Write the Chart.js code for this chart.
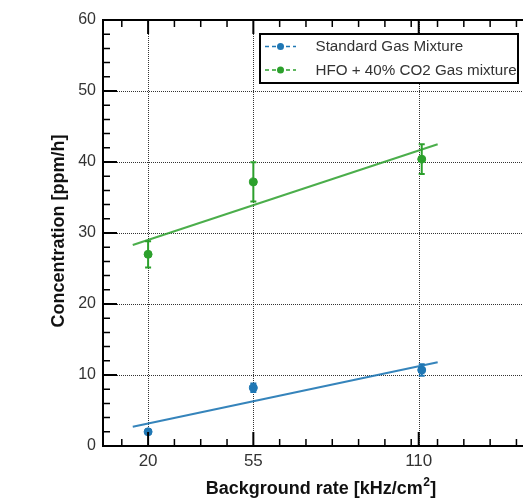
<!DOCTYPE html>
<html><head><meta charset="utf-8">
<script src="https://cdn.jsdelivr.net/npm/chart.js@4/dist/chart.umd.min.js"></script>
<style>html,body{margin:0;padding:0;background:#fff;overflow:hidden;width:523px;height:502px}canvas{display:block}</style>
</head><body>
<canvas id="c" width="545" height="502"></canvas>
<script>
const seriesNames = ['Standard Gas Mixture', 'HFO + 40% CO2 Gas mixture'];
const xValues = [20, 55, 111];
const standardY = [2.0, 8.2, 10.7];
const standardErr = [0.3, 0.6, 0.8];
const hfoY = [27.0, 37.2, 40.4];
const hfoErr = [1.85, 2.75, 2.1];
const fitX = [14.9, 116.3];
const standardFitY = [2.7, 11.8];
const hfoFitY = [28.3, 42.5];
const xTicks = [20, 55, 110];
const xMinorTicks = [11.25, 28.75, 37.5, 46.25, 63.75, 72.5, 81.25, 90, 98.75, 107.5, 116.25, 125, 133.75, 142.5];
const yTicks = [0, 10, 20, 30, 40, 50, 60];
const yMinorTicks = [2,4,6,8,12,14,16,18,22,24,26,28,32,34,36,38,42,44,46,48,52,54,56,58];
const xTitleParts = ['Background rate [kHz/cm', '2', ']'];
const yTitle = 'Concentration [ppm/h]';

const BLUE = '#1f77b4', GREEN = '#2ca02c';
const FONT = '"Liberation Sans", Arial, Helvetica, sans-serif';
const colors = [BLUE, GREEN];
const series = [[standardY, standardErr], [hfoY, hfoErr]];

const decor = {
  id: 'decor',
  beforeDatasetsDraw(chart) {
    const {ctx, chartArea: a, scales: {x, y}} = chart;
    ctx.save();
    ctx.strokeStyle = '#333'; ctx.lineWidth = 1; ctx.setLineDash([1, 1]);
    ctx.beginPath();
    xTicks.forEach(v => { const p = Math.round(x.getPixelForValue(v)) + 0.5; ctx.moveTo(p, a.top); ctx.lineTo(p, a.bottom); });
    yTicks.forEach(v => { if (v <= y.min || v >= y.max) return; const p = Math.round(y.getPixelForValue(v)) + 0.5; ctx.moveTo(a.left, p); ctx.lineTo(a.right, p); });
    ctx.stroke();
    ctx.setLineDash([]);
    series.forEach(([vals, errs], s) => {
      ctx.strokeStyle = colors[s]; ctx.lineWidth = 2;
      vals.forEach((v, i) => {
        const px = x.getPixelForValue(xValues[i]);
        const t = y.getPixelForValue(v + errs[i]);
        const b = y.getPixelForValue(v - errs[i]);
        ctx.beginPath();
        ctx.moveTo(px, t); ctx.lineTo(px, b);
        ctx.moveTo(px - 3, t); ctx.lineTo(px + 3, t);
        ctx.moveTo(px - 3, b); ctx.lineTo(px + 3, b);
        ctx.stroke();
      });
    });
    ctx.restore();
  },
  afterDatasetsDraw(chart) {
    const {ctx, chartArea: a, scales: {x, y}} = chart;
    ctx.save();
    ctx.strokeStyle = '#000'; ctx.lineWidth = 1.5;
    ctx.beginPath();
    const tick = (v, len, axis) => {
      if (axis === 'x') {
        const p = x.getPixelForValue(v);
        ctx.moveTo(p, a.bottom); ctx.lineTo(p, a.bottom - len);
        ctx.moveTo(p, a.top); ctx.lineTo(p, a.top + len);
      } else {
        const p = y.getPixelForValue(v);
        ctx.moveTo(a.left, p); ctx.lineTo(a.left + len, p);
        ctx.moveTo(a.right, p); ctx.lineTo(a.right - len, p);
      }
    };
    xMinorTicks.forEach(v => tick(v, 7, 'x'));
    yMinorTicks.forEach(v => tick(v, 7, 'y'));
    ctx.stroke();
    ctx.lineWidth = 2;
    ctx.beginPath();
    xTicks.forEach(v => tick(v, 14, 'x'));
    yTicks.forEach(v => tick(v, 14, 'y'));
    ctx.stroke();
    ctx.lineWidth = 2; ctx.strokeStyle = '#000';
    ctx.strokeRect(a.left, a.top, a.right - a.left, a.bottom - a.top);
    const L = 260, T = 34, R = 518, B = 83;
    ctx.fillStyle = '#fff';
    ctx.fillRect(L, T, R - L, B - T);
    ctx.lineWidth = 2; ctx.strokeStyle = '#000';
    ctx.strokeRect(L, T, R - L, B - T);
    const rows = [46.5, 70];
    seriesNames.forEach((name, i) => {
      const yy = rows[i];
      ctx.strokeStyle = colors[i]; ctx.lineWidth = 1.5; ctx.setLineDash([4, 3]);
      ctx.beginPath(); ctx.moveTo(265, yy); ctx.lineTo(296, yy); ctx.stroke();
      ctx.setLineDash([]);
      ctx.fillStyle = colors[i];
      ctx.beginPath(); ctx.arc(280.5, yy, 3.5, 0, Math.PI * 2); ctx.fill();
      ctx.fillStyle = '#333';
      ctx.font = '15.2px ' + FONT;
      ctx.textAlign = 'left'; ctx.textBaseline = 'middle';
      ctx.fillText(name, 315.5, yy + 0.5);
    });
    ctx.restore();
  },
  afterDraw(chart) {
    const {ctx} = chart;
    ctx.save();
    ctx.fillStyle = '#111';
    ctx.translate(59, 231);
    ctx.rotate(-Math.PI / 2);
    ctx.font = 'bold 18px ' + FONT;
    ctx.textAlign = 'center'; ctx.textBaseline = 'middle';
    ctx.fillText(yTitle, 0, 0);
    ctx.setTransform(1, 0, 0, 1, 0, 0);
    ctx.textAlign = 'left'; ctx.textBaseline = 'alphabetic';
    ctx.font = 'bold 18px ' + FONT;
    const w1 = ctx.measureText(xTitleParts[0]).width;
    const w3 = ctx.measureText(xTitleParts[2]).width;
    ctx.font = 'bold 12px ' + FONT;
    const w2 = ctx.measureText(xTitleParts[1]).width + 1;
    const total = w1 + w2 + w3;
    let sx = 321 - total / 2;
    const base = 494;
    ctx.font = 'bold 18px ' + FONT;
    ctx.fillText(xTitleParts[0], sx, base);
    ctx.font = 'bold 12px ' + FONT;
    ctx.fillText(xTitleParts[1], sx + w1 + 0.5, base - 8);
    ctx.font = 'bold 18px ' + FONT;
    ctx.fillText(xTitleParts[2], sx + w1 + w2, base);
    ctx.restore();
  }
};

const pts = (ys) => xValues.map((v, i) => ({x: v, y: ys[i]}));
const fit = (ys) => fitX.map((v, i) => ({x: v, y: ys[i]}));

new Chart(document.getElementById('c'), {
  type: 'scatter',
  data: {
    datasets: [
      {label: seriesNames[0], data: pts(standardY), backgroundColor: BLUE, borderColor: BLUE, pointRadius: 4, showLine: false},
      {label: seriesNames[1], data: pts(hfoY), backgroundColor: GREEN, borderColor: GREEN, pointRadius: 4, showLine: false},
      {label: 'fit1', data: fit(standardFitY), borderColor: 'rgba(31,119,180,0.9)', borderWidth: 2, pointRadius: 0, showLine: true, fill: false},
      {label: 'fit2', data: fit(hfoFitY), borderColor: 'rgba(44,160,44,0.85)', borderWidth: 2, pointRadius: 0, showLine: true, fill: false}
    ]
  },
  options: {
    responsive: false,
    maintainAspectRatio: false,
    devicePixelRatio: 1,
    animation: false,
    layout: {padding: {top: 20, left: 0, right: 6, bottom: 0}},
    plugins: {legend: {display: false}, tooltip: {enabled: false}},
    scales: {
      x: {
        type: 'linear', min: 5, max: 150,
        afterBuildTicks: s => { s.ticks = xTicks.map(v => ({value: v})); },
        afterFit: s => { s.height = 56; },
        ticks: {autoSkip: false, maxRotation: 0, minRotation: 0, padding: 5, color: '#333', font: {family: FONT, size: 17}},
        grid: {display: false, drawTicks: false},
        border: {display: false}
      },
      y: {
        type: 'linear', min: 0, max: 60,
        afterBuildTicks: s => { s.ticks = yTicks.map(v => ({value: v})); },
        afterFit: s => { s.width = 103; },
        ticks: {autoSkip: false, padding: 7, color: '#333', font: {family: FONT, size: 16}},
        grid: {display: false, drawTicks: false},
        border: {display: false}
      }
    }
  },
  plugins: [decor]
});
</script>
</body></html>
